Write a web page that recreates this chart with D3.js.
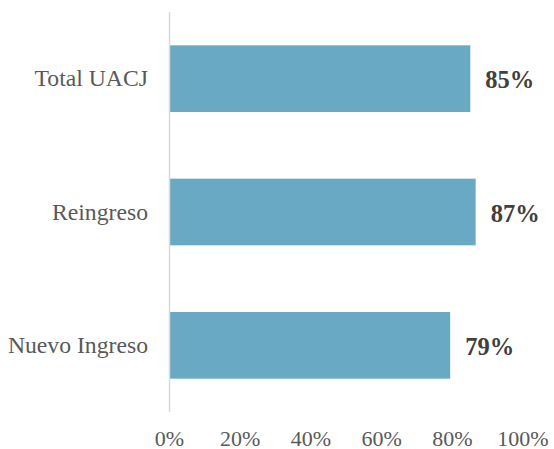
<!DOCTYPE html>
<html>
<head>
<meta charset="utf-8">
<script src="https://cdn.jsdelivr.net/npm/d3@7"></script>
<style>
  html, body { margin: 0; padding: 0; background: #fff; }
  svg { display: block; }
  svg text { font-family: "Liberation Serif", "Noto Serif", "DejaVu Serif", serif; }
</style>
</head>
<body>
<svg id="chart" width="554" height="449"></svg>
<script>
const categories = ["Total UACJ", "Reingreso", "Nuevo Ingreso"];
const values = [0.851, 0.866, 0.794];
const valueLabels = ["85%", "87%", "79%"];
const tickValues = [0, 0.2, 0.4, 0.6, 0.8, 1.0];
const tickLabels = ["0%", "20%", "40%", "60%", "80%", "100%"];

const svg = d3.select("#chart");

const x = d3.scaleLinear().domain([0, 1]).range([169.5, 523]);
const y = d3.scaleBand().domain(categories).range([12, 412]).paddingInner(0.5).paddingOuter(0.25);

// bars
svg.selectAll("rect.bar")
  .data(categories)
  .join("rect")
  .attr("class", "bar")
  .attr("x", x(0))
  .attr("y", d => y(d))
  .attr("width", (d, i) => x(values[i]) - x(0))
  .attr("height", y.bandwidth())
  .attr("fill", "#69A9C3");

// vertical axis line
svg.append("line")
  .attr("x1", x(0)).attr("x2", x(0))
  .attr("y1", 12).attr("y2", 412)
  .attr("stroke", "#d9d9d9")
  .attr("stroke-width", 1.5);

// category labels
svg.selectAll("text.cat")
  .data(categories)
  .join("text")
  .attr("class", "cat")
  .attr("x", x(0) - 21.5)
  .attr("y", d => y(d) + y.bandwidth() / 2)
  .attr("dy", "0.33em")
  .attr("text-anchor", "end")
  .style("font-size", "23.7px")
  .attr("fill", "#595959")
  .text(d => d);

// value labels
svg.selectAll("text.val")
  .data(categories)
  .join("text")
  .attr("class", "val")
  .attr("x", (d, i) => x(values[i]) + 15)
  .attr("y", d => y(d) + y.bandwidth() / 2)
  .attr("dy", "0.4em")
  .style("font-weight", "bold")
  .style("font-size", "24.5px")
  .attr("fill", "#404040")
  .text((d, i) => valueLabels[i]);

// x tick labels
svg.selectAll("text.tick")
  .data(tickValues)
  .join("text")
  .attr("class", "tick")
  .attr("x", d => x(d))
  .attr("y", 445.5)
  .attr("text-anchor", "middle")
  .style("font-size", "22px")
  .attr("fill", "#595959")
  .text((d, i) => tickLabels[i]);
</script>
</body>
</html>
